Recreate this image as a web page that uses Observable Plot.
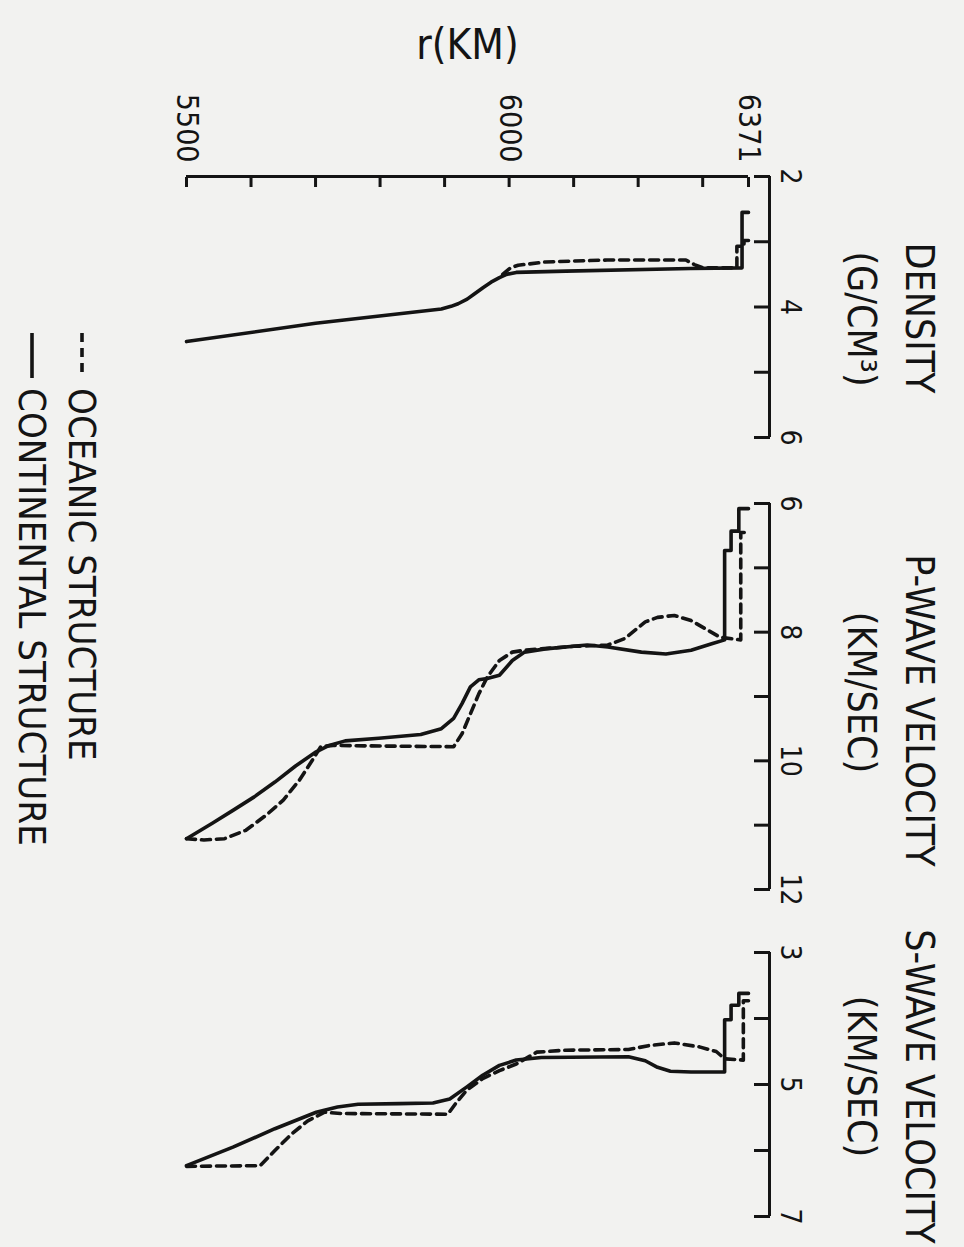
<!DOCTYPE html>
<html><head><meta charset="utf-8">
<script src="https://cdn.jsdelivr.net/npm/d3@7"></script>
<script src="https://cdn.jsdelivr.net/npm/@observablehq/plot@0.6"></script>
<style>
body{margin:0;background:#f2f2f0;}
#chart{position:relative;width:964px;height:1247px;overflow:hidden;}
#chart svg{position:absolute;left:0;top:0;overflow:visible;}
</style></head><body><div id="chart"></div>
<script>
// ---- data ----
const rTicks = [5500,5600,5700,5800,5900,6000,6100,6200,6300,6371];
const rLabels = [5500,6000,6371];
const densTicks = [2,3,4,5,6];   const densLabels = [2,4,6];
const pTicks = [6,7,8,9,10,11,12]; const pLabels = [6,8,10,12];
const sTicks = [3,4,5,6,7];      const sLabels = [3,5,7];

const densContR = [5500,5700,5895,5910,5921,5935,5946,5960,5972,5985,5996,6011,6088,6281,6361,6361,6371];
const densContV = [4.53,4.25,4.03,3.99,3.95,3.88,3.80,3.70,3.62,3.55,3.50,3.47,3.45,3.41,3.40,2.55,2.55];
const densOceR = [5990,6002,6014,6056,6152,6274,6287,6300,6353,6353,6364,6364,6371];
const densOceV = [3.50,3.40,3.36,3.31,3.28,3.28,3.35,3.40,3.40,3.07,3.07,2.98,2.98];

const pContR = [5500,5540,5572,5605,5637,5669,5701,5721,5746,5798,5863,5895,5914,5927,5940,5953,5966,5985,6005,6024,6056,6121,6153,6205,6243,6282,6314,6334,6334,6344,6344,6356,6356,6371];
const pContV = [11.21,10.97,10.77,10.56,10.33,10.08,9.86,9.76,9.69,9.65,9.59,9.50,9.34,9.11,8.85,8.74,8.72,8.67,8.44,8.31,8.26,8.20,8.23,8.31,8.34,8.28,8.18,8.12,6.73,6.73,6.43,6.43,6.08,6.08];
const pOceR = [5500,5527,5559,5592,5624,5650,5675,5695,5708,5727,5800,5914,5927,5940,5953,5966,5985,6005,6024,6100,6153,6179,6211,6230,6256,6282,6308,6327,6359,6359,6371];
const pOceV = [11.21,11.23,11.21,11.08,10.84,10.61,10.30,9.99,9.78,9.76,9.77,9.78,9.58,9.27,8.96,8.70,8.44,8.31,8.28,8.22,8.20,8.10,7.84,7.77,7.74,7.82,7.97,8.08,8.12,6.45,6.45];

const sContR = [5500,5572,5637,5701,5734,5766,5830,5882,5908,5934,5959,5985,6011,6050,6185,6211,6230,6250,6282,6334,6334,6344,6344,6356,6356,6371];
const sContV = [6.23,5.95,5.67,5.42,5.34,5.30,5.29,5.28,5.22,5.04,4.86,4.71,4.63,4.59,4.58,4.64,4.74,4.80,4.81,4.81,4.02,4.02,3.80,3.80,3.62,3.62];
const sOceR = [5500,5614,5637,5663,5688,5714,5740,5905,5917,5934,5959,5985,6011,6043,6088,6185,6217,6256,6295,6321,6334,6363,6363,6371];
const sOceV = [6.24,6.23,6.00,5.75,5.55,5.42,5.44,5.45,5.29,5.09,4.91,4.79,4.69,4.51,4.48,4.47,4.41,4.37,4.43,4.50,4.61,4.63,3.73,3.73];

const legendLabels = ["OCEANIC STRUCTURE","CONTINENTAL STRUCTURE"];

// ---- drawing ----
const W = 964, H = 1247, INK = "#141414";
const FONT = "'Liberation Sans Narrow','DejaVu Sans Condensed','DejaVu Sans',sans-serif";
const rows = (R, V) => R.map((r, i) => ({r, v: V[i]}));
const plain = d => String(d);
const chart = document.getElementById("chart");

function panel({domain, top, bottom, ticks, labels, cont, oce, title, unit, titleDy, unitDy, extra = []}) {
  return Plot.plot({
    width: W, height: H,
    marginLeft: 186, marginRight: W - 748, marginTop: top, marginBottom: H - bottom,
    x: {domain: [5500, 6371], axis: extra.length ? undefined : null},
    y: {domain, reverse: true},
    style: {background: "transparent", color: INK, fontFamily: FONT, overflow: "visible"},
    marks: [
      Plot.axisY({anchor: "right", ticks, tickSize: 16, dx: 5, tickFormat: () => "", strokeWidth: 3, label: null}),
      Plot.ruleX([6371], {dx: 21, strokeWidth: 3, stroke: INK}),
      Plot.axisY({anchor: "right", ticks: labels, tickSize: 0, tickPadding: 32, tickRotate: 90, tickFormat: plain,
                  textAnchor: "middle", lineAnchor: "bottom", fontSize: 28, label: null}),
      Plot.line(oce, {x: "r", y: "v", stroke: INK, strokeWidth: 3.6, strokeDasharray: "9,6"}),
      Plot.line(cont, {x: "r", y: "v", stroke: INK, strokeWidth: 3.6}),
      Plot.text([title], {text: d => d, frameAnchor: "right", dx: 170, dy: titleDy, rotate: 90,
                          textAnchor: "middle", lineAnchor: "middle", fontSize: 39, fill: INK}),
      Plot.text([unit], {text: d => d, frameAnchor: "right", dx: 112, dy: unitDy, rotate: 90,
                         textAnchor: "middle", lineAnchor: "middle", fontSize: 39, fill: INK}),
      ...extra
    ]
  });
}

const densExtra = [
  Plot.ruleY([densTicks[0]], {strokeWidth: 3, stroke: INK}),
  Plot.axisX({anchor: "top", ticks: rTicks, tickSize: 10, dy: 10, tickFormat: () => "", strokeWidth: 3, label: null}),
  Plot.axisX({anchor: "top", ticks: rLabels, tickSize: 0, tickPadding: 14, tickRotate: 90, tickFormat: plain,
              textAnchor: "end", lineAnchor: "middle", fontSize: 30, label: null}),
  Plot.text(["r(KM)"], {text: d => d, frameAnchor: "top", dy: -131, textAnchor: "middle", lineAnchor: "middle",
                        fontSize: 42, fill: INK})
];

chart.append(panel({domain: [2, 6], top: 176, bottom: 437, ticks: densTicks, labels: densLabels,
  cont: rows(densContR, densContV), oce: rows(densOceR, densOceV),
  title: "DENSITY", unit: "(G/CM³)", titleDy: 11, unitDy: 12, extra: densExtra}));
chart.append(panel({domain: [6, 12], top: 503, bottom: 889, ticks: pTicks, labels: pLabels,
  cont: rows(pContR, pContV), oce: rows(pOceR, pOceV),
  title: "P-WAVE VELOCITY", unit: "(KM/SEC)", titleDy: 14, unitDy: -4}));
chart.append(panel({domain: [3, 7], top: 952, bottom: 1216, ticks: sTicks, labels: sLabels,
  cont: rows(sContR, sContV), oce: rows(sOceR, sOceV),
  title: "S-WAVE VELOCITY", unit: "(KM/SEC)", titleDy: 2, unitDy: -8}));

// legend
const leg = d3.create("svg").attr("width", W).attr("height", H).style("font-family", FONT);
[[82, "9,6"], [32, null]].forEach(([x, dash], i) => {
  leg.append("line").attr("x1", x).attr("x2", x).attr("y1", 333).attr("y2", 378)
    .attr("stroke", INK).attr("stroke-width", 3.6).attr("stroke-dasharray", dash);
  leg.append("text").attr("transform", `translate(${x},388) rotate(90)`)
    .attr("dominant-baseline", "central").attr("font-size", 38).attr("fill", INK)
    .text(legendLabels[i]);
});
chart.append(leg.node());
</script></body></html>
